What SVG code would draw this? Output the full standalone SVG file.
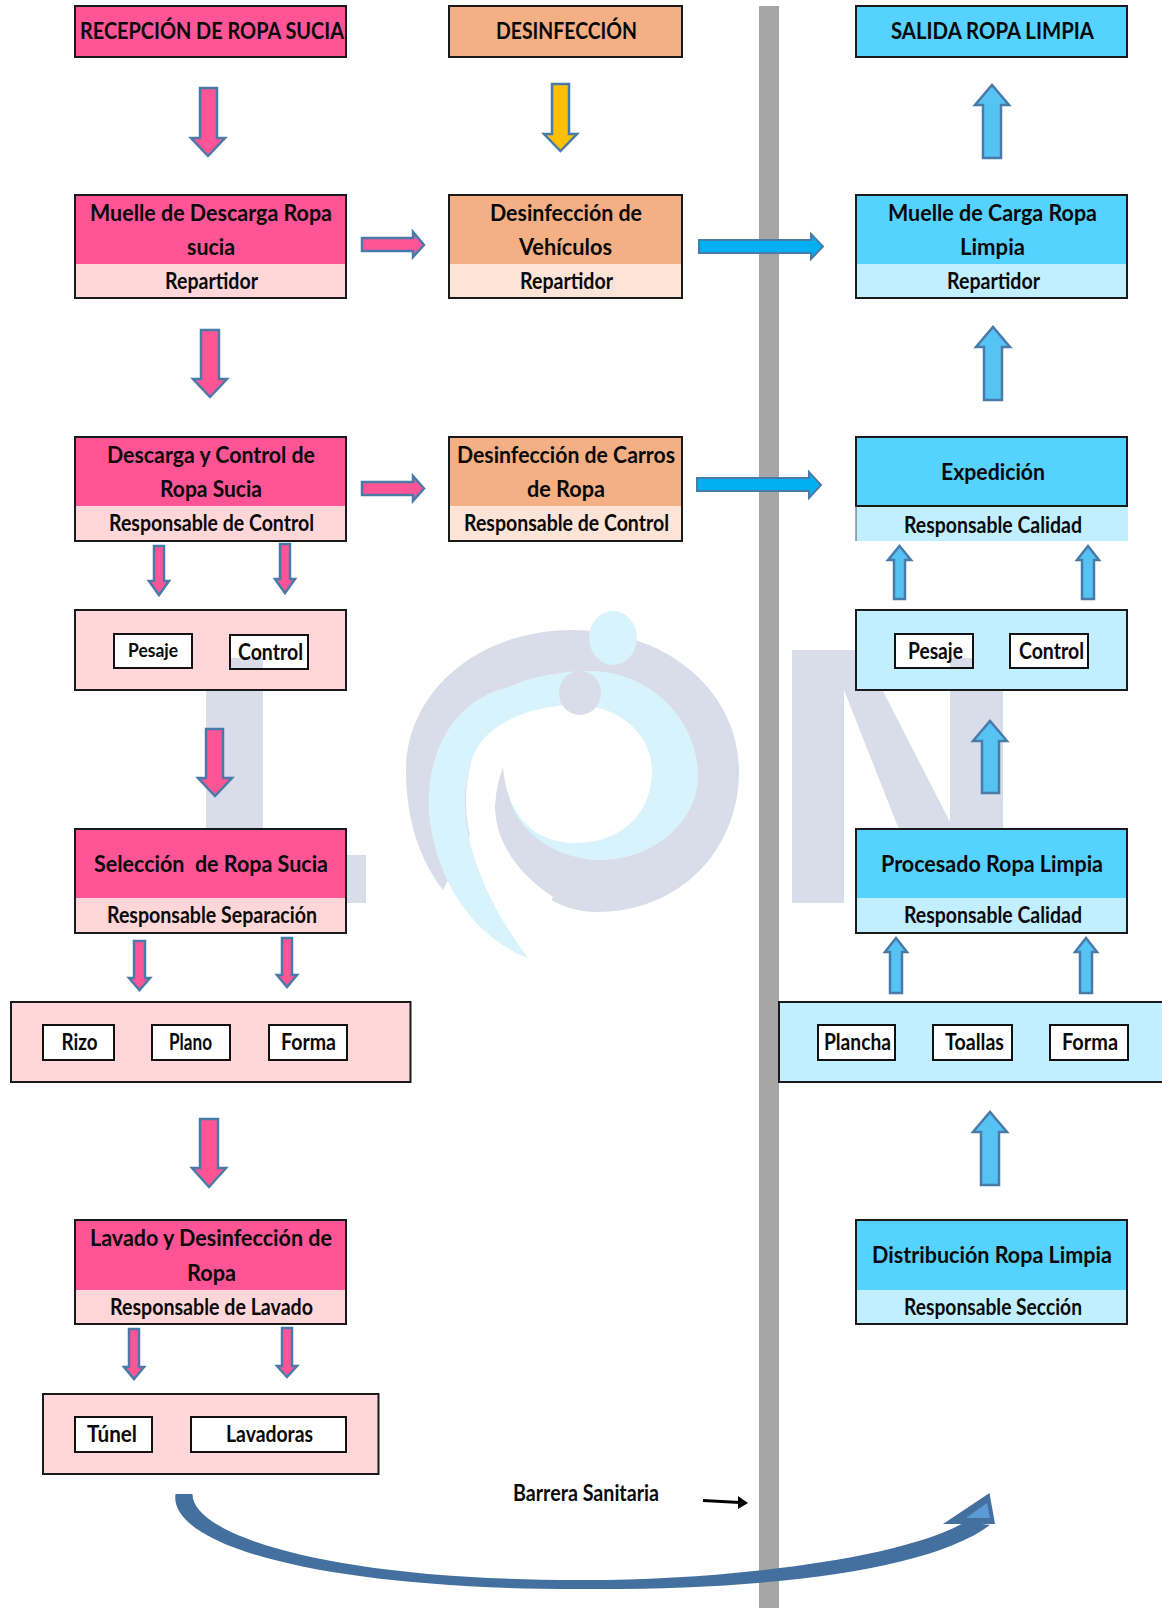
<svg xmlns="http://www.w3.org/2000/svg" width="1162" height="1608" viewBox="0 0 1162 1608">
<style>
text{font-family:"Lato","Open Sans","Liberation Sans",sans-serif;font-weight:700;font-size:22px;fill:#0a0a0a}
.b{fill:none;stroke:#1a1a1a;stroke-width:2}
.pk{fill:#ff5597}.lp{fill:#ffd7d9}.pc{fill:#f4b084}.lc{fill:#fde4d6}.bl{fill:#55d2ff}.lb{fill:#c1efff}.wh{fill:#fff;stroke:#111;stroke-width:2}
.ap{fill:#ff5597;stroke:#4a7ba8;stroke-width:2.5}
.ab{fill:#55c4f5;stroke:#4a7ba8;stroke-width:2.5}
.ac{fill:#00b0f0;stroke:#4a7ba8;stroke-width:2}
.ay{fill:#ffc000;stroke:#4a7ba8;stroke-width:2.5}
.wg{fill:#d9dce9}.wl{fill:#d8f3fb}
</style>
<rect width="1162" height="1608" fill="#fff"/>
<g id="watermark">
<path class="wg" d="M206 640H263V855H366V903H206Z"/>
<path class="wg" d="M792 650H862L950 822V650H1003V903H928L844 690V903H792Z"/>
<path class="wg" d="M443 890C420 860 406 820 406 771C406 690 480 630 572 630C665 630 739 690 739 771C739 850 680 912 597 912C540 912 497 860 495 810C495 795 498 780 503 767Z"/>
<path class="wl" d="M528 958C480 940 440 890 430 823C422 760 450 700 509 687C530 677 560 671 590 671C650 671 698 720 698 775C698 825 650 860 600 860C560 860 520 835 510 800L503 767L471 763C455 810 470 880 528 958Z"/>
<path fill="#fff" d="M503 767C506 810 530 843 575 843C625 843 652 810 652 771C652 735 620 705 575 705C530 705 480 725 471 763C458 810 468 870 528 958L553 897C520 875 497 845 495 810C495 795 498 780 503 767Z"/>
<ellipse class="wl" cx="613" cy="638" rx="24" ry="27"/>
<ellipse class="wg" cx="580" cy="693" rx="21" ry="22"/>
</g>
<rect id="barrier" x="759" y="6" width="20" height="1602" fill="#a6a6a6"/>

<g id="recepcion"><rect class="pk" x="75" y="6" width="271" height="51"/><rect class="b" x="75" y="6" width="271" height="51"/><text x="80" y="39" textLength="264" lengthAdjust="spacingAndGlyphs">RECEPCIÓN DE ROPA SUCIA</text></g>
<g id="desinfeccion"><rect class="pc" x="449" y="6" width="233" height="51"/><rect class="b" x="449" y="6" width="233" height="51"/><text x="496" y="39" textLength="141" lengthAdjust="spacingAndGlyphs">DESINFECCIÓN</text></g>
<g id="salida"><rect class="bl" x="856" y="6" width="271" height="51"/><rect class="b" x="856" y="6" width="271" height="51"/><text x="891" y="39" textLength="203" lengthAdjust="spacingAndGlyphs">SALIDA ROPA LIMPIA</text></g>

<g id="muelle-descarga"><rect class="pk" x="75" y="195" width="271" height="69"/><rect class="lp" x="75" y="264" width="271" height="34"/><rect class="b" x="75" y="195" width="271" height="103"/><text x="90" y="221" textLength="242" lengthAdjust="spacingAndGlyphs">Muelle de Descarga Ropa</text><text x="187" y="255" textLength="48" lengthAdjust="spacingAndGlyphs">sucia</text><text x="165" y="289" textLength="93" lengthAdjust="spacingAndGlyphs">Repartidor</text></g>
<g id="desinf-vehiculos"><rect class="pc" x="449" y="195" width="233" height="69"/><rect class="lc" x="449" y="264" width="233" height="34"/><rect class="b" x="449" y="195" width="233" height="103"/><text x="490" y="221" textLength="152" lengthAdjust="spacingAndGlyphs">Desinfección de</text><text x="519" y="255" textLength="93" lengthAdjust="spacingAndGlyphs">Vehículos</text><text x="520" y="289" textLength="93" lengthAdjust="spacingAndGlyphs">Repartidor</text></g>
<g id="muelle-carga"><rect class="bl" x="856" y="195" width="271" height="69"/><rect class="lb" x="856" y="264" width="271" height="34"/><rect class="b" x="856" y="195" width="271" height="103"/><text x="888" y="221" textLength="209" lengthAdjust="spacingAndGlyphs">Muelle de Carga Ropa</text><text x="960" y="255" textLength="65" lengthAdjust="spacingAndGlyphs">Limpia</text><text x="947" y="289" textLength="93" lengthAdjust="spacingAndGlyphs">Repartidor</text></g>

<g id="descarga-control"><rect class="pk" x="75" y="437" width="271" height="69"/><rect class="lp" x="75" y="506" width="271" height="35"/><rect class="b" x="75" y="437" width="271" height="104"/><text x="107" y="463" textLength="208" lengthAdjust="spacingAndGlyphs">Descarga y Control de</text><text x="160" y="497" textLength="102" lengthAdjust="spacingAndGlyphs">Ropa Sucia</text><text x="109" y="531" textLength="205" lengthAdjust="spacingAndGlyphs">Responsable de Control</text></g>
<g id="desinf-carros"><rect class="pc" x="449" y="437" width="233" height="69"/><rect class="lc" x="449" y="506" width="233" height="35"/><rect class="b" x="449" y="437" width="233" height="104"/><text x="457" y="463" textLength="218" lengthAdjust="spacingAndGlyphs">Desinfección de Carros</text><text x="527" y="497" textLength="78" lengthAdjust="spacingAndGlyphs">de Ropa</text><text x="464" y="531" textLength="205" lengthAdjust="spacingAndGlyphs">Responsable de Control</text></g>
<g id="expedicion"><rect class="lb" x="856" y="507" width="272" height="34"/><rect class="bl" x="856" y="437" width="271" height="69"/><rect class="b" x="856" y="437" width="271" height="69"/><path d="M856 506V541" stroke="#555" stroke-width="1" fill="none"/><text x="941" y="480" textLength="104" lengthAdjust="spacingAndGlyphs">Expedición</text><text x="904" y="533" textLength="178" lengthAdjust="spacingAndGlyphs">Responsable Calidad</text></g>

<g id="pesaje-control-izq"><rect class="lp" x="75" y="610" width="271" height="80"/><rect class="b" x="75" y="610" width="271" height="80"/>
<g id="pesaje-izq"><rect class="wh" x="114" y="634" width="78" height="34"/><text x="128" y="657" style="font-size:19px" textLength="50" lengthAdjust="spacingAndGlyphs">Pesaje</text></g>
<g id="control-izq"><rect class="wh" x="230" y="635" width="78" height="34"/><rect class="wg" x="231" y="658" width="32" height="10"/><text x="238" y="660" textLength="65" lengthAdjust="spacingAndGlyphs">Control</text></g></g>
<g id="pesaje-control-der"><rect class="lb" x="856" y="610" width="271" height="80"/><rect class="b" x="856" y="610" width="271" height="80"/>
<g id="pesaje-der"><rect class="wh" x="895" y="634" width="78" height="34"/><rect class="wg" x="950" y="658" width="22" height="9"/><text x="908" y="659" textLength="55" lengthAdjust="spacingAndGlyphs">Pesaje</text></g>
<g id="control-der"><rect class="wh" x="1010" y="634" width="78" height="34"/><text x="1019" y="659" textLength="65" lengthAdjust="spacingAndGlyphs">Control</text></g></g>

<g id="seleccion"><rect class="pk" x="75" y="829" width="271" height="69"/><rect class="lp" x="75" y="898" width="271" height="35"/><rect class="b" x="75" y="829" width="271" height="104"/><text x="94" y="872" xml:space="preserve" textLength="234" lengthAdjust="spacingAndGlyphs">Selección  de Ropa Sucia</text><text x="107" y="923" textLength="210" lengthAdjust="spacingAndGlyphs">Responsable Separación</text></g>
<g id="procesado"><rect class="bl" x="856" y="829" width="271" height="69"/><rect class="lb" x="856" y="898" width="271" height="35"/><rect class="b" x="856" y="829" width="271" height="104"/><text x="881" y="872" textLength="222" lengthAdjust="spacingAndGlyphs">Procesado Ropa Limpia</text><text x="904" y="923" textLength="178" lengthAdjust="spacingAndGlyphs">Responsable Calidad</text></g>

<g id="clasificacion"><rect class="lp" x="11" y="1002" width="399.500" height="80"/><rect class="b" x="11" y="1002" width="399.500" height="80"/>
<g id="rizo"><rect class="wh" x="43" y="1025" width="71" height="35"/><text x="61.500" y="1050" textLength="36" lengthAdjust="spacingAndGlyphs">Rizo</text></g>
<g id="plano"><rect class="wh" x="152" y="1025" width="78" height="35"/><text x="169" y="1050" textLength="43" lengthAdjust="spacingAndGlyphs">Plano</text></g>
<g id="forma-izq"><rect class="wh" x="269" y="1025" width="78" height="35"/><text x="281" y="1050" textLength="55" lengthAdjust="spacingAndGlyphs">Forma</text></g></g>
<g id="tratamiento"><rect class="lb" x="779" y="1002" width="383" height="80"/><path class="b" d="M1162 1002H779V1082H1162"/>
<g id="plancha"><rect class="wh" x="818" y="1025" width="77" height="35"/><text x="824" y="1050" textLength="67" lengthAdjust="spacingAndGlyphs">Plancha</text></g>
<g id="toallas"><rect class="wh" x="933" y="1025" width="79" height="35"/><text x="945" y="1050" textLength="59" lengthAdjust="spacingAndGlyphs">Toallas</text></g>
<g id="forma-der"><rect class="wh" x="1050" y="1025" width="78" height="35"/><text x="1062" y="1050" textLength="56" lengthAdjust="spacingAndGlyphs">Forma</text></g></g>

<g id="lavado"><rect class="pk" x="75" y="1220" width="271" height="70"/><rect class="lp" x="75" y="1290" width="271" height="34"/><rect class="b" x="75" y="1220" width="271" height="104"/><text x="90" y="1246" textLength="242" lengthAdjust="spacingAndGlyphs">Lavado y Desinfección de</text><text x="187" y="1281" textLength="49" lengthAdjust="spacingAndGlyphs">Ropa</text><text x="110" y="1315" textLength="203" lengthAdjust="spacingAndGlyphs">Responsable de Lavado</text></g>
<g id="distribucion"><rect class="bl" x="856" y="1220" width="271" height="70"/><rect class="lb" x="856" y="1290" width="271" height="34"/><rect class="b" x="856" y="1220" width="271" height="104"/><text x="872" y="1263" textLength="240" lengthAdjust="spacingAndGlyphs">Distribución Ropa Limpia</text><text x="904" y="1315" textLength="178" lengthAdjust="spacingAndGlyphs">Responsable Sección</text></g>
<g id="maquinas"><rect class="lp" x="43" y="1394" width="335.500" height="80"/><rect class="b" x="43" y="1394" width="335.500" height="80"/>
<g id="tunel"><rect class="wh" x="75" y="1417" width="77" height="35"/><text x="87" y="1442" textLength="50" lengthAdjust="spacingAndGlyphs">Túnel</text></g>
<g id="lavadoras"><rect class="wh" x="191" y="1417" width="155" height="35"/><text x="226" y="1442" textLength="87" lengthAdjust="spacingAndGlyphs">Lavadoras</text></g></g>
<g id="barrera-sanitaria"><text x="513" y="1501" textLength="146" lengthAdjust="spacingAndGlyphs">Barrera Sanitaria</text></g>

<g id="connectors">
<polygon class="ap" points="200,88 217,88 217,138 225,138 208,156 191,138 200,138"/>
<polygon class="ay" points="552,84 569,84 569,134 577,134 560.500,151 544,134 552,134"/>
<polygon class="ab" points="983,158 1001,158 1001,105 1009,105 992,85 975,105 983,105"/>
<polygon class="ap" points="201,330 219,330 219,379 227,379 210,397 193,379 201,379"/>
<polygon class="ap" points="362,238 413,238 413,232 424,245 413,257 413,251 362,251"/>
<polygon class="ap" points="362,482 413,482 413,476 424,488.500 413,501 413,495 362,495"/>
<polygon class="ac" points="699,240 811,240 811,234 823,246.500 811,259 811,253 699,253"/>
<polygon class="ac" points="697,478 809,478 809,472 821,485 809,498 809,491 697,491"/>
<polygon class="ab" points="984,400 1002,400 1002,347 1010,347 993,327 976,347 984,347"/>
<polygon class="ap" points="154,546 164,546 164,581 169,581 159,595 149,581 154,581"/>
<polygon class="ap" points="280,544 290,544 290,579 295,579 285,593 275,579 280,579"/>
<polygon class="ab" points="894,599 905,599 905,560 911,560 899.500,546 888,560 894,560"/>
<polygon class="ab" points="1082,599 1094,599 1094,560 1099,560 1088,546 1077,560 1082,560"/>
<polygon class="ap" points="206,729 223,729 223,778 232,778 215,796 198,778 206,778"/>
<polygon class="ab" points="982,793 999,793 999,741 1007,741 990,721 973,741 982,741"/>
<polygon class="ap" points="134,941 145,941 145,978 150,978 139.500,990 129,978 134,978"/>
<polygon class="ap" points="282,938 292,938 292,975 297,975 287,987 277,975 282,975"/>
<polygon class="ab" points="890,993 902,993 902,952 907,952 896,938 885,952 890,952"/>
<polygon class="ab" points="1080,993 1092,993 1092,952 1097,952 1086,938 1075,952 1080,952"/>
<polygon class="ap" points="200,1119 218,1119 218,1168 226,1168 209,1187 192,1168 200,1168"/>
<polygon class="ab" points="981,1185 999,1185 999,1132 1007,1132 990,1112 973,1132 981,1132"/>
<polygon class="ap" points="129,1329 139,1329 139,1367 144,1367 134,1379 124,1367 129,1367"/>
<polygon class="ap" points="282,1328 292,1328 292,1366 297,1366 287,1377 277,1366 282,1366"/>
<path d="M703 1500.500L740 1502.500" stroke="#000" stroke-width="3" fill="none"/>
<polygon points="748,1503 738,1496 738,1509" fill="#000"/>
<path fill="#44709f" d="M175.500 1494H192.500C192 1535 330 1581 585 1580C720 1580 900 1560 965 1522L990 1525C930 1570 770 1590 585 1589C320 1590 168 1545 175.500 1494Z"/>
<polygon points="989.500,1493 943,1524 995,1524" fill="#44709f"/>
<polygon points="987,1503 966,1518 990,1518" fill="#5b9bd5"/>
</g>
</svg>
